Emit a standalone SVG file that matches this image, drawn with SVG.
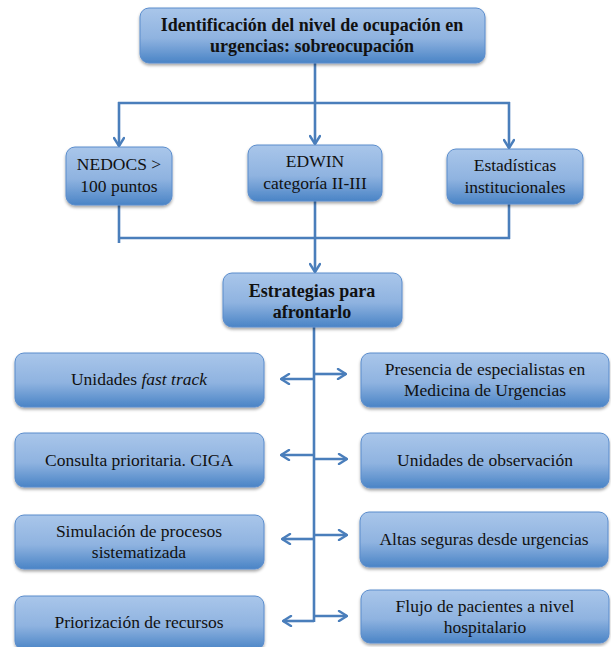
<svg xmlns="http://www.w3.org/2000/svg" width="611" height="647" viewBox="0 0 611 647">
<defs>
<linearGradient id="g" x1="0" y1="0" x2="0" y2="1">
<stop offset="0" stop-color="#a9c6ea"/>
<stop offset="0.55" stop-color="#8fb3e0"/>
<stop offset="1" stop-color="#4a84c6"/>
</linearGradient>
<filter id="sh" x="-10%" y="-10%" width="120%" height="130%">
<feDropShadow dx="0" dy="2" stdDeviation="1.8" flood-color="#000" flood-opacity="0.35"/>
</filter>
<marker id="ah" viewBox="0 0 12 12" refX="11" refY="6" markerWidth="12" markerHeight="12" markerUnits="userSpaceOnUse" orient="auto">
<path d="M3,1 L11,6 L3,11" fill="none" stroke="#4a7ebb" stroke-width="2.4" stroke-linecap="round" stroke-linejoin="round"/>
</marker>
<style>
.box{fill:url(#g);stroke:#5a8ccc;stroke-width:1;filter:url(#sh)}
.t{font-family:"Liberation Serif","DejaVu Serif",serif;font-size:17.5px;fill:#111;text-anchor:middle}
.b{font-weight:bold;font-size:18px}
.c{fill:none;stroke:#4a7ebb;stroke-width:2.6}
.a{fill:none;stroke:#4a7ebb;stroke-width:2.6;marker-end:url(#ah)}
</style>
</defs>
<g id="connectors">
<line class="c" x1="315" y1="63" x2="315" y2="103"/>
<line class="c" x1="118" y1="103" x2="510" y2="103"/>
<line class="a" x1="119" y1="102" x2="119" y2="146"/>
<line class="a" x1="315" y1="103" x2="315" y2="144"/>
<line class="a" x1="509" y1="102" x2="509" y2="148"/>
<line class="c" x1="119" y1="205" x2="119" y2="243"/>
<line class="c" x1="509" y1="204" x2="509" y2="239"/>
<line class="c" x1="118" y1="238" x2="510" y2="238"/>
<line class="a" x1="315" y1="201" x2="315" y2="272"/>
<line class="c" x1="314" y1="327" x2="314" y2="622"/>
<line class="a" x1="314" y1="379" x2="281" y2="379"/>
<line class="a" x1="314" y1="374" x2="346" y2="374"/>
<line class="a" x1="314" y1="455" x2="281" y2="455"/>
<line class="a" x1="314" y1="459" x2="347" y2="459"/>
<line class="a" x1="314" y1="539" x2="282" y2="539"/>
<line class="a" x1="314" y1="535" x2="347" y2="535"/>
<line class="a" x1="314" y1="621" x2="283" y2="621"/>
<line class="a" x1="314" y1="616" x2="347" y2="616"/>
</g>
<g id="n-top"><rect class="box" x="140" y="8" width="345" height="55" rx="9"/>
<text class="t b" x="312" y="31">Identificación del nivel de ocupación en</text>
<text class="t b" x="312" y="52">urgencias: sobreocupación</text></g>
<g id="n-nedocs"><rect class="box" x="66" y="147" width="106" height="58" rx="9"/>
<text class="t" x="119" y="170">NEDOCS &gt;</text>
<text class="t" x="119" y="192">100 puntos</text></g>
<g id="n-edwin"><rect class="box" x="248" y="145" width="134" height="56" rx="9"/>
<text class="t" x="315" y="167">EDWIN</text>
<text class="t" x="315" y="189">categoría II-III</text></g>
<g id="n-est"><rect class="box" x="447" y="149" width="136" height="55" rx="9"/>
<text class="t" x="515" y="171">Estadísticas</text>
<text class="t" x="515" y="193">institucionales</text></g>
<g id="n-estr"><rect class="box" x="223" y="273" width="179" height="54" rx="9"/>
<text class="t b" x="312" y="297">Estrategias para</text>
<text class="t b" x="312" y="318">afrontarlo</text></g>
<g id="n-fast"><rect class="box" x="15" y="353" width="249" height="54" rx="9"/>
<text class="t" x="139" y="385">Unidades <tspan font-style="italic">fast track</tspan></text></g>
<g id="n-consulta"><rect class="box" x="15" y="433" width="249" height="54" rx="9"/>
<text class="t" x="139" y="466">Consulta prioritaria. CIGA</text></g>
<g id="n-sim"><rect class="box" x="15" y="515" width="249" height="54" rx="9"/>
<text class="t" x="139" y="537">Simulación de procesos</text>
<text class="t" x="139" y="558">sistematizada</text></g>
<g id="n-prior"><rect class="box" x="15" y="596" width="249" height="54" rx="9"/>
<text class="t" x="139" y="628">Priorización de recursos</text></g>
<g id="n-presencia"><rect class="box" x="361" y="353" width="248" height="54" rx="9"/>
<text class="t" x="485" y="375">Presencia de especialistas en</text>
<text class="t" x="485" y="396">Medicina de Urgencias</text></g>
<g id="n-obs"><rect class="box" x="361" y="433" width="248" height="55" rx="9"/>
<text class="t" x="485" y="466">Unidades de observación</text></g>
<g id="n-altas"><rect class="box" x="360" y="512" width="248" height="55" rx="9"/>
<text class="t" x="484" y="545">Altas seguras desde urgencias</text></g>
<g id="n-flujo"><rect class="box" x="361" y="590" width="248" height="53" rx="9"/>
<text class="t" x="485" y="612">Flujo de pacientes a nivel</text>
<text class="t" x="485" y="633">hospitalario</text></g>
</svg>
